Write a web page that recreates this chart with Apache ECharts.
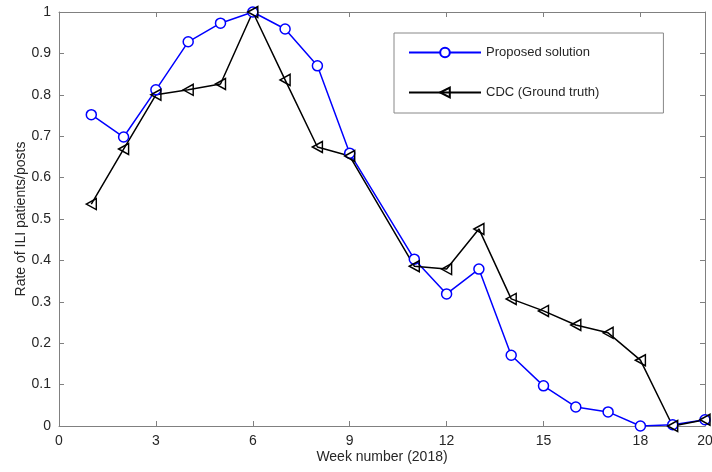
<!DOCTYPE html>
<html><head><meta charset="utf-8">
<script src="https://cdn.jsdelivr.net/npm/echarts@6/dist/echarts.min.js"></script>
<style>html,body{margin:0;padding:0;background:#fff}#c{width:712px;height:472px}</style>
</head><body><div id="c"></div>
<script>
const weeks = [1,2,3,4,5,6,7,8,9,11,12,13,14,15,16,17,18,19,20];
const proposed = [0.752,0.698,0.812,0.928,0.973,1.0,0.959,0.870,0.659,0.403,0.319,0.379,0.171,0.097,0.046,0.034,0.0,0.003,0.015];
const cdc = [0.536,0.669,0.800,0.812,0.826,1.0,0.836,0.674,0.652,0.386,0.379,0.476,0.307,0.278,0.244,0.225,0.159,0.0,0.015];
const xTicks = [0,3,6,9,12,15,18,20];
const yTicks = [0,0.1,0.2,0.3,0.4,0.5,0.6,0.7,0.8,0.9,1];

const axisColor = '#808080';
const textColor = '#262626';
const font = 'Liberation Sans, Arial, sans-serif';

function xAx(pos, labels){
  return {type:'value', position:pos, min:0, max:20, interval:1,
    axisLine:{show:true, onZero:false, lineStyle:{color:axisColor,width:1}},
    axisTick:{show:true, inside:true, length:5, customValues:xTicks, lineStyle:{color:axisColor}},
    axisLabel:{show:labels, customValues:xTicks, color:textColor, fontSize:14, fontFamily:font, margin:8},
    splitLine:{show:false},
    name: labels ? 'Week number (2018)' : '', nameLocation:'middle', nameGap:24, nameMoveOverlap:false,
    nameTextStyle:{color:textColor, fontSize:14, fontFamily:font}};
}
function yAx(pos, labels){
  return {type:'value', position:pos, min:0, max:1, interval:0.1,
    axisLine:{show:true, onZero:false, lineStyle:{color:axisColor,width:1}},
    axisTick:{show:true, inside:true, length:5, lineStyle:{color:axisColor}},
    axisLabel:{show:labels, color:textColor, fontSize:14, fontFamily:font, margin:8,
      formatter: v => String(Math.round(v*10)/10)},
    splitLine:{show:false},
    name: labels ? 'Rate of ILI patients/posts' : '', nameLocation:'middle', nameGap:31, nameMoveOverlap:false,
    nameTextStyle:{color:textColor, fontSize:14, fontFamily:font}};
}

const chart = echarts.init(document.getElementById('c'), null, {renderer:'canvas'});
chart.setOption({
  animation:false,
  backgroundColor:'#fff',
  grid:{left:59, right:7, top:12, bottom:46, containLabel:false, outerBoundsMode:'none'},
  xAxis:[xAx('bottom',true), xAx('top',false)],
  yAxis:[yAx('left',true), yAx('right',false)],
  legend:{
    left:394, top:33, orient:'vertical',
    padding:[13,64,14,14], itemGap:27, itemWidth:72, itemHeight:12,
    borderColor:'#888', borderWidth:1, backgroundColor:'#fff',
    textStyle:{color:textColor, fontSize:13, fontFamily:font},
    data:['Proposed solution','CDC (Ground truth)']
  },
  series:[
    {name:'Proposed solution', type:'line', xAxisIndex:0, yAxisIndex:0,
      data: weeks.map((w,i)=>[w,proposed[i]]),
      symbol:'circle', symbolSize:10, showAllSymbol:true,
      lineStyle:{color:'#0000ff', width:1.5},
      itemStyle:{color:'#fff', borderColor:'#0000ff', borderWidth:1.5},
      emphasis:{disabled:true}},
    {name:'CDC (Ground truth)', type:'line', xAxisIndex:0, yAxisIndex:0,
      data: weeks.map((w,i)=>[w,cdc[i]]),
      symbol:'path://M0,5 L9,0 L9,10 Z', symbolSize:[10,11], showAllSymbol:true,
      lineStyle:{color:'#000', width:1.5},
      itemStyle:{color:'rgba(255,255,255,0)', borderColor:'#000', borderWidth:1.5},
      emphasis:{disabled:true}}
  ]
});
</script>
</body></html>
